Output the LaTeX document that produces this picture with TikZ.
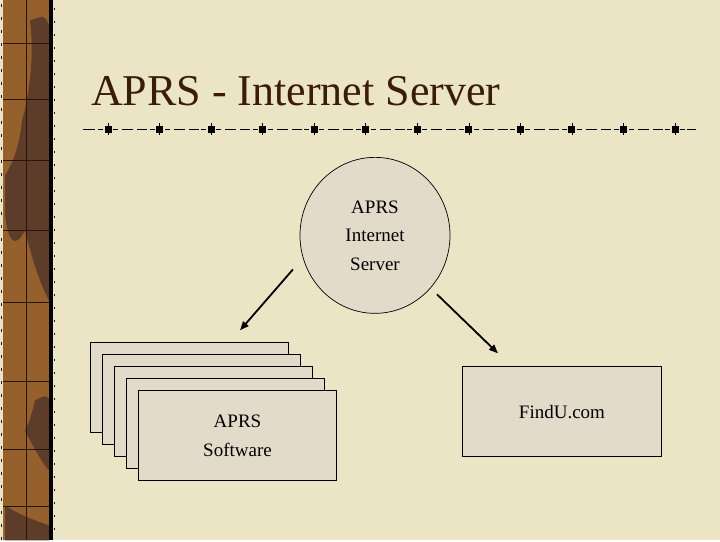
\documentclass[tikz,border=0pt]{standalone}
\usepackage{fontspec}
\setmainfont{Liberation Serif}
\usetikzlibrary{arrows.meta, shapes.geometric}
\definecolor{slidebg}{RGB}{235,229,198}
\definecolor{boxfill}{RGB}{226,219,202}
\definecolor{titlebrown}{RGB}{58,28,10}
\definecolor{strip}{RGB}{150,96,44}
\definecolor{stripdark}{RGB}{94,60,42}
\definecolor{stripline}{RGB}{40,20,10}

\begin{document}
\begin{tikzpicture}[x=1pt, y=-1pt, every node/.style={inner sep=0pt},
  card/.style={draw=black, fill=boxfill, line width=1pt, minimum width=198pt, minimum height=90pt, anchor=north west},
  bubble/.style={ellipse, draw=black, fill=boxfill, line width=0.7pt, minimum width=150pt, minimum height=156pt},
  lbl/.style={align=center, font=\fontsize{19}{28.5}\selectfont},
  rule/.style={line width=1.5pt},
  arrow/.style={-{Triangle[length=9pt,width=7pt]}, line width=1.8pt}]
% slide
\fill[slidebg] (0,0) rectangle (720,540);
% binding strip on the left
\fill[strip] (3,0) rectangle (49,540);
\fill[stripdark] (30,20) .. controls (45,15) .. (49,25) -- (49,300) .. controls (38,280) and (30,250) .. (25,230)
  .. controls (15,250) and (8,240) .. (5,215) -- (5,175) .. controls (15,160) and (20,140) .. (22,120)
  .. controls (28,100) and (35,60) .. (30,20) -- cycle;
\fill[stripdark] (35,400) .. controls (45,395) .. (49,398) -- (49,470) .. controls (40,460) and (30,440) .. (25,430)
  .. controls (30,420) .. (35,400) -- cycle;
\fill[stripdark] (5,505) .. controls (20,515) and (35,520) .. (49,525) -- (49,540) -- (5,540) -- cycle;
\draw[stripline, line width=0.7pt] (26,0) -- (26,540);
\foreach \h in {43,99,160,230,302,381,449,506}
  \draw[stripline, line width=0.7pt] (3,\h) -- (49,\h);
\fill[black] (49,0) rectangle (53,540);
\draw[stripline, line width=1.5pt, dash pattern=on 3pt off 10pt] (1.5,4) -- (1.5,540);
\draw[stripline, line width=1.2pt, dash pattern=on 2pt off 11pt] (54.5,8) -- (54.5,540);

% title and rule
\node[anchor=base west, font=\fontsize{44}{44}\selectfont, text=titlebrown] (title) at (91,105) {APRS - Internet Server};
\draw[rule] (83,129) -- (95,129) (687,129) -- (696,129);
\foreach \i in {0,...,11} {
  \pgfmathsetmacro\c{108+51.55*\i}
  \fill (\c-3.5,125.5) rectangle (\c+3.5,132.5);
  \draw[line width=0.6pt] (\c,123) -- (\c,135);
  \draw[rule] (\c-10,129) -- (\c-5,129) (\c+5,129) -- (\c+10,129);
}
\foreach \i in {0,...,10} {
  \pgfmathsetmacro\c{108+51.55*\i}
  \draw[rule] (\c+14,129) -- (\c+25,129) (\c+29,129) -- (\c+39,129);
}

% server
\node[bubble] (srv) at (375,235) {};
\node[lbl] at (srv.center) {APRS\\Internet\\Server};

% stack of clients
\foreach \i in {0,...,3}
  \node[card] (sw\i) at (90+12*\i, 342+12*\i) {};
\node[card] (soft) at (138,390) {};
\node[lbl] at (soft.center) {APRS\\Software};

% findu
\node[card, minimum width=199pt] (findu) at (462,366) {};
\node[lbl] at (findu.center) {FindU.com};

% links
\coordinate (l0) at (293,269);
\coordinate (l1) at (240,330);
\coordinate (r0) at (437,294);
\coordinate (r1) at (498,353);
\draw[arrow] (l0) -- (l1);
\draw[arrow] (r0) -- (r1);
\end{tikzpicture}
\end{document}
